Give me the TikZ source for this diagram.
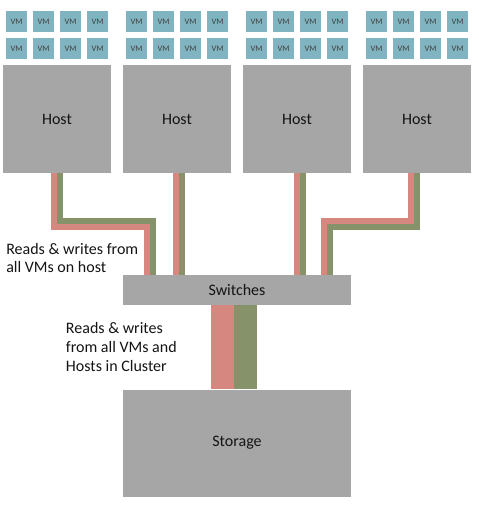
\documentclass[tikz,border=0pt]{standalone}
\usepackage{fontspec}
\setmainfont{Carlito}
\usetikzlibrary{calc}
\definecolor{vmc}{RGB}{128,180,192}
\definecolor{boxc}{RGB}{166,166,166}
\definecolor{redc}{RGB}{213,135,128}
\definecolor{grnc}{RGB}{133,146,106}
\definecolor{txtc}{RGB}{20,20,20}
\begin{document}
\begin{tikzpicture}[x=0.75pt,y=-0.75pt,
  greybox/.style={fill=boxc,draw=none,inner sep=0pt,text=txtc},
  vmbox/.style={fill=vmc,draw=none,inner sep=0pt,minimum width=15.75pt,minimum height=15.75pt,font=\fontsize{6.3}{6.3}\selectfont,text=black!75},
  redline/.style={draw=redc,line width=4.5pt},
  grnline/.style={draw=grnc,line width=4.5pt},
  lbl/.style={align=left,inner sep=0pt,text=txtc,anchor=base west}]
\useasboundingbox (0,0) rectangle (478,506);
% hosts
\foreach \i in {1,...,4}{
  \node[greybox,minimum width=81pt,minimum height=81pt,font=\fontsize{12}{14}\selectfont] (h\i) at ({57+120*(\i-1)},119) {Host};
  \foreach \r in {1,2}{
    \foreach \c in {1,...,4}{
      \node[vmbox] (vm\i\r\c) at ({16.5+120*(\i-1)+27*(\c-1)},{21.5+27*(\r-1)}) {VM};
    }
  }
}
\node[greybox,minimum width=171pt,minimum height=22.5pt,font=\fontsize{12}{14}\selectfont] (sw) at (237,290) {Switches};
\node[greybox,minimum width=171pt,minimum height=80.25pt,font=\fontsize{12}{14}\selectfont] (st) at (237,443) {Storage};
% cables host 1
\draw[redline] ($(h1.south)+(-3,0)$) -- ++(0,54) -| ($(sw.north)+(-90,0)$);
\draw[grnline] ($(h1.south)+(3,0)$) -- ++(0,48) -| ($(sw.north)+(-84,0)$);
% host 2
\draw[redline] ($(h2.south)+(-1,0)$) -- ($(sw.north)+(-61,0)$);
\draw[grnline] ($(h2.south)+(5,0)$) -- ($(sw.north)+(-55,0)$);
% host 3
\draw[redline] ($(h3.south)+(0,0)$) -- ($(sw.north)+(60,0)$);
\draw[grnline] ($(h3.south)+(6,0)$) -- ($(sw.north)+(66,0)$);
% host 4
\draw[redline] ($(h4.south)+(-6,0)$) -- ++(0,48) -| ($(sw.north)+(87,0)$);
\draw[grnline] ($(h4.south)+(0,0)$) -- ++(0,54) -| ($(sw.north)+(93,0)$);
% trunk
\fill[redc] ($(sw.south)+(-26,0)$) rectangle ($(st.north)+(-3,0)$);
\fill[grnc] ($(sw.south)+(-3,0)$) rectangle ($(st.north)+(20,0)$);
% labels (base anchor = last line's baseline)
\node[lbl,font=\fontsize{12}{13.75}\selectfont] (t1) at (6,272.7) {Reads \& writes from\\all VMs on host};
\node[lbl,font=\fontsize{12}{14.25}\selectfont] (t2) at (65.7,371.3) {Reads \& writes\\from all VMs and\\Hosts in Cluster};
\end{tikzpicture}
\end{document}
